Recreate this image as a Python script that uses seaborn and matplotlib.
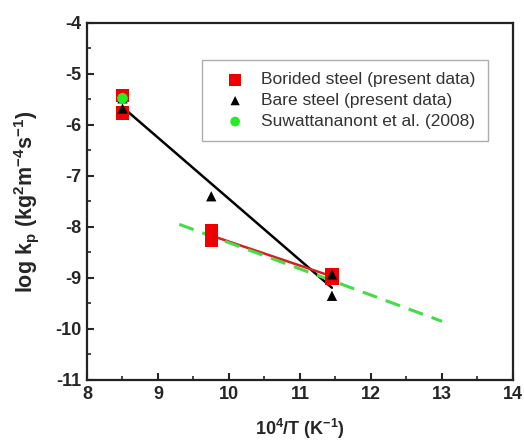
import numpy as np
import pandas as pd
import matplotlib
matplotlib.use("Agg")
import matplotlib.pyplot as plt
import seaborn as sns

# Borided steel (present data)
borided_x = [8.50, 8.50, 9.75, 9.75, 11.45, 11.45]
borided_y = [-5.42, -5.77, -8.08, -8.26, -8.94, -9.00]

# Bare steel (present data)
bare_x = [8.50, 8.50, 9.75, 11.45, 11.45]
bare_y = [-5.48, -5.68, -7.40, -8.93, -9.35]

# Suwattananont et al. (2008)
suwa_x = [8.50]
suwa_y = [-5.48]
suwa_line_x = [9.30, 13.00]
suwa_line_y = [-7.95, -9.85]

sns.set_style("ticks")
plt.rcParams['font.family'] = ['Liberation Sans', 'DejaVu Sans']
plt.rcParams['axes.unicode_minus'] = False
plt.rcParams['mathtext.fontset'] = 'custom'
plt.rcParams['mathtext.rm'] = 'Liberation Sans'
plt.rcParams['mathtext.bf'] = 'Liberation Sans:bold'

fig = plt.figure(figsize=(5.24, 4.46), dpi=100)
ax = fig.add_axes([0.166, 0.148, 0.813, 0.801])

# fitted lines through the measured points
def fit_line(xs, ys):
    k, b = np.polyfit(xs, ys, 1)
    xx = np.array([min(xs), max(xs)])
    return pd.DataFrame({'x': xx, 'y': k * xx + b})

bor_fit = fit_line(borided_x[2:], borided_y[2:])
bare_fit = fit_line(bare_x, bare_y)

sns.lineplot(data=bare_fit, x='x', y='y', color='black', lw=1.8, ax=ax)
sns.lineplot(data=bor_fit, x='x', y='y', color='#d42020', lw=1.8, ax=ax)
sns.lineplot(x=suwa_line_x, y=suwa_line_y, color='#44dd44', lw=2.2,
             linestyle=(0, (5, 3)), ax=ax)

sns.scatterplot(x=borided_x, y=borided_y, marker='s', s=90, color='#ee0000',
                edgecolor='none', label='Borided steel (present data)', ax=ax, zorder=3)
sns.scatterplot(x=bare_x, y=bare_y, marker='^', s=55, color='black',
                edgecolor='none', label='Bare steel (present data)', ax=ax, zorder=4)
sns.scatterplot(x=suwa_x, y=suwa_y, marker='o', s=60, color='#22ee22',
                edgecolor='none', label='Suwattananont et al. (2008)', ax=ax, zorder=5)

ax.set_xlim(8, 14)
ax.set_ylim(-11, -4)
ax.set_xticks(np.arange(8, 15, 1))
ax.set_xticks(np.arange(8.5, 14, 1), minor=True)
ax.set_yticks(np.arange(-11, -3, 1))
ax.set_yticks(np.arange(-10.5, -4, 1), minor=True)
ax.tick_params(which='major', direction='in', length=5, width=1.5, labelsize=13, pad=4)
ax.tick_params(which='minor', direction='in', length=3, width=1.2)
for lab in ax.get_xticklabels() + ax.get_yticklabels():
    lab.set_fontweight('bold')
for sp in ax.spines.values():
    sp.set_visible(True)
    sp.set_linewidth(1.6)
    sp.set_color('#222222')

ax.set_xlabel(r'10$^{\mathbf{4}}$/T (K$^{\mathbf{-1}}$)', fontsize=13, fontweight='bold', labelpad=10)
ax.set_ylabel(r'log k$_{\mathbf{p}}$ (kg$^{\mathbf{2}}$m$^{\mathbf{-4}}$s$^{\mathbf{-1}}$)',
              fontsize=15.5, fontweight='bold', labelpad=10)

leg = ax.legend(loc='upper right', bbox_to_anchor=(0.961, 0.92), fontsize=12.5,
                frameon=True, fancybox=False, edgecolor='#999999',
                handletextpad=0.3, borderpad=0.7, labelspacing=0.33, markerscale=0.9,
                handlelength=2.4)
leg.get_frame().set_linewidth(1.0)
for t in leg.get_texts():
    t.set_color('#333333')

fig.savefig('out.png', dpi=100)
